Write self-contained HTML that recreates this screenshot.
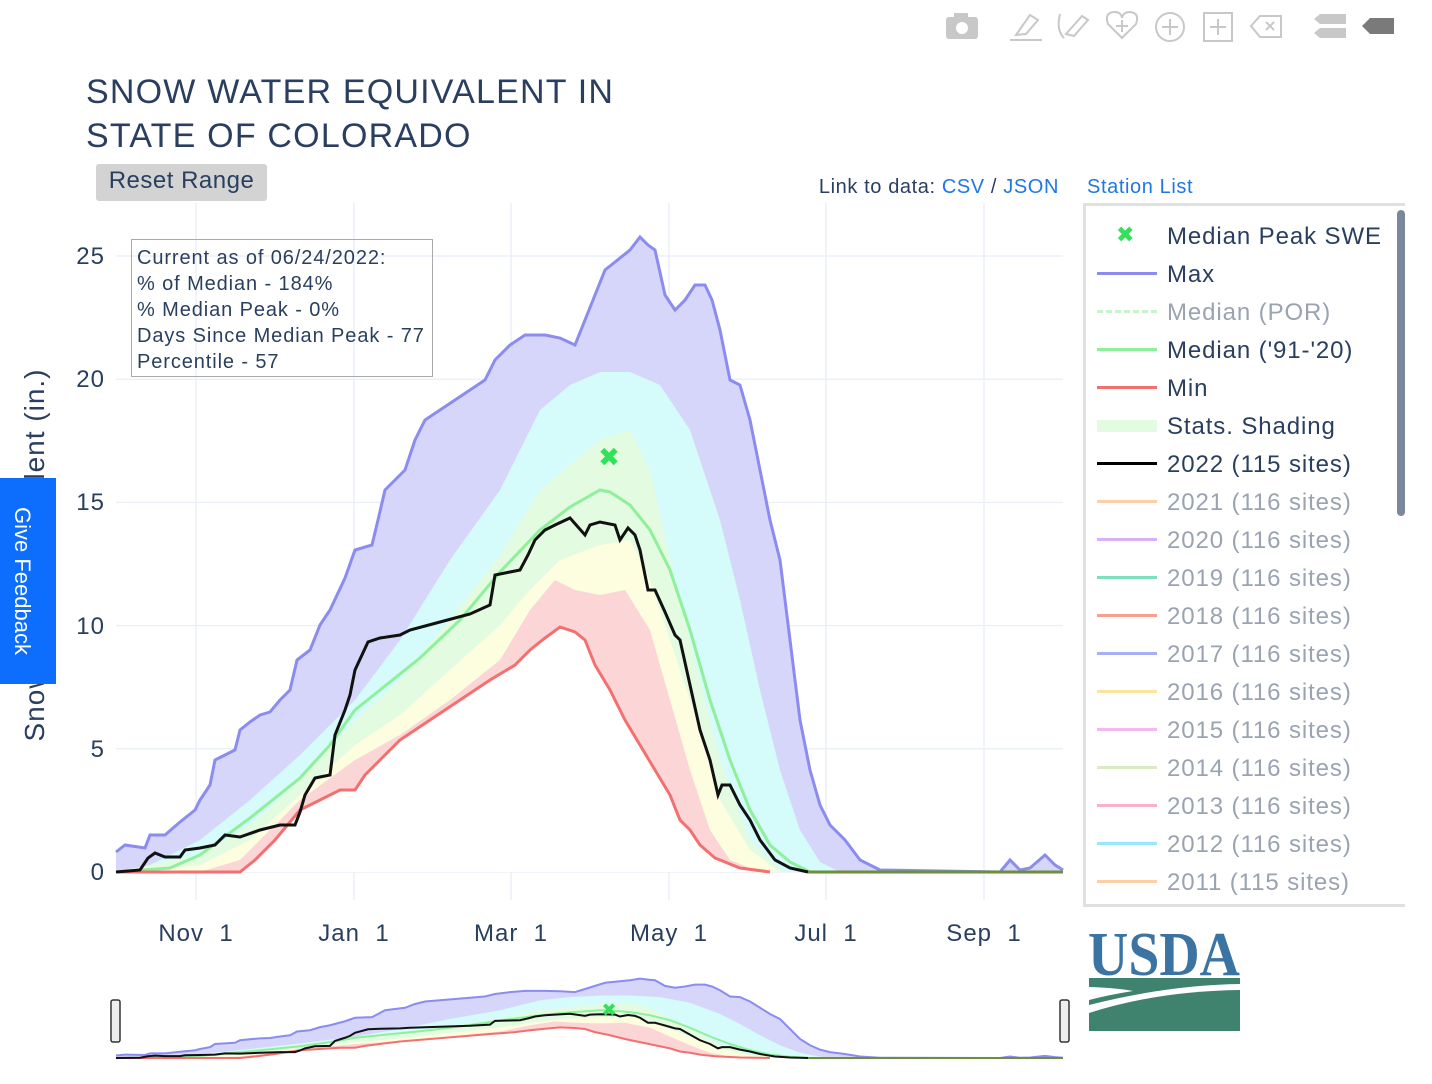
<!DOCTYPE html>
<html><head><meta charset="utf-8"><style>
body{margin:0;width:1432px;height:1084px;background:#fff;position:relative;overflow:hidden;font-family:"Liberation Sans","DejaVu Sans",sans-serif;color:#2a3f5f}
.t{position:absolute;white-space:nowrap}
</style></head><body>
<svg width="1432" height="1084" style="position:absolute;left:0;top:0" id="s">
<g fill="#c8c8c8" stroke="#c8c8c8">
<rect x="946" y="17" width="32" height="22" rx="3" stroke="none"/><rect x="954" y="13" width="14" height="6" stroke="none"/><circle cx="962" cy="28" r="6" fill="#fff" stroke="none"/>
<g fill="none" stroke-width="2"><line x1="1010" y1="40" x2="1042" y2="40"/><path d="M1016 35 L1030 15 L1038 20 L1026 34 Z"/>
<path d="M1060 14 Q1056 30 1064 38 M1066 34 L1082 16 L1088 20 L1074 36 Z"/>
<path d="M1122 38 L1108 24 Q1104 12 1115 12 Q1121 12 1122 18 Q1123 12 1130 12 Q1140 13 1136 24 Z"/><path d="M1122 20 v12 M1116 26 h12"/>
<circle cx="1170" cy="27" r="14"/><path d="M1170 19 v16 M1162 27 h16"/>
<rect x="1204" y="13" width="28" height="28"/><path d="M1218 19 v16 M1210 27 h16"/>
<path d="M1251 26 L1260 16 H1281 V37 H1260 Z"/><path d="M1266 22 l8 8 M1274 22 l-8 8"/></g>
<path d="M1320 14 H1346 V24 H1320 L1314 19 Z M1320 28 H1346 V38 H1320 L1314 33 Z" stroke="none"/>
<path d="M1370 18 H1394 V34 H1370 L1362 26 Z" fill="#7a7a7a" stroke="none"/>
</g>
<g stroke="#ebf0f8" stroke-width="1.5" id="grid"></g>
<g id="main"></g>
<g id="mini"></g>
</svg>
<div class="t" style="left:86px;top:70px;font-size:34px;line-height:44px;letter-spacing:1.2px">SNOW WATER EQUIVALENT IN<br>STATE OF COLORADO</div>
<div class="t" style="left:96px;top:164px;width:171px;height:37px;background:#d3d3d3;border-radius:3px;font-size:24px;text-align:center;line-height:34px;letter-spacing:0.5px">Reset Range</div>
<div class="t" style="right:373px;top:176px;font-size:20px;letter-spacing:0.6px">Link to data: <span style="color:#1f77e4">CSV</span> / <span style="color:#1f77e4">JSON</span></div>
<div class="t" style="left:1087px;top:176px;font-size:20px;color:#1f77e4;letter-spacing:0.6px">Station List</div>
<div class="t" style="left:131px;top:239px;width:302px;height:138px;border:1.5px solid #aaa;font-size:20px;line-height:26px;padding:5px 0 0 5px;box-sizing:border-box;letter-spacing:0.9px">Current as of 06/24/2022:<br>% of Median - 184%<br>% Median Peak - 0%<br>Days Since Median Peak - 77<br>Percentile - 57</div>
<div class="t" style="left:35px;top:555px;font-size:28px;letter-spacing:1px;transform:translate(-50%,-50%) rotate(-90deg)">Snow Water Equivalent (in.)</div>
<div class="t" style="left:0;top:478px;width:56px;height:206px;background:#0d6efd"><div class="t" style="left:22px;top:103px;color:#fff;font-size:22px;transform:translate(-50%,-50%) rotate(90deg)">Give Feedback</div></div>
<div id="yt"></div>
<div id="xt"></div>
<div class="t" style="left:1083px;top:203px;width:322px;height:704px;border:3px solid #e0e0e0;border-right:none;box-sizing:border-box"></div>
<div class="t" style="left:1397px;top:210px;width:8px;height:306px;background:#7d879c;border-radius:4px"></div>
<div id="lg"></div>
<svg width="152" height="110" style="position:absolute;left:1088px;top:925px">
<text x="0" y="50" font-family="Liberation Serif,serif" font-weight="bold" font-size="62" fill="#3b73a3" textLength="152" lengthAdjust="spacingAndGlyphs">USDA</text>
<path d="M1 53 H152 V59 Q80 60 1 80 Z" fill="#3f826d"/><path d="M1 62 Q30 63 45 66 Q20 70 1 75 Z" fill="#fff"/>
<path d="M1 88 Q70 66 152 65 V106 H1 Z" fill="#3f826d"/>
</svg>
<script>
var NS="http://www.w3.org/2000/svg";
function el(p,t,a){var e=document.createElementNS(NS,t);for(var k in a)e.setAttribute(k,a[k]);p.appendChild(e);return e}
var g=document.getElementById('grid');
[196,354,511,669,826,984].forEach(function(x){el(g,'line',{x1:x,x2:x,y1:203,y2:900})});
[0,5,10,15,20,25].forEach(function(v){var y=872-v*24.64;el(g,'line',{x1:116,x2:1063,y1:y,y2:y});
var d=document.createElement('div');d.className='t';d.style.cssText='right:1327px;top:'+(y-13)+'px;font-size:24px;letter-spacing:1px';d.textContent=v;document.getElementById('yt').appendChild(d)});
[["Nov  1",196],["Jan  1",354],["Mar  1",511],["May  1",669],["Jul  1",826],["Sep  1",984]].forEach(function(a){var d=document.createElement('div');d.className='t';d.style.cssText='left:'+a[1]+'px;top:920px;font-size:24px;letter-spacing:1px;transform:translateX(-50%);white-space:pre';d.textContent=a[0];document.getElementById('xt').appendChild(d)});
var mx=[[116,852],[125,845],[145,848],[150,835],[165,835],[180,822],[195,810],[200,800],[210,785],[215,760],[225,755],[235,750],[240,730],[250,722],[260,715],[270,712],[280,700],[290,690],[297,660],[310,650],[320,625],[330,610],[345,578],[355,550],[372,545],[378,520],[385,490],[395,480],[405,470],[415,440],[425,420],[440,410],[455,400],[470,390],[485,380],[495,360],[510,345],[525,335],[545,335],[560,338],[575,345],[585,320],[595,295],[605,270],[615,262],[630,250],[640,237],[648,245],[655,250],[665,295],[675,310],[685,300],[695,285],[705,285],[712,300],[720,330],[730,380],[740,385],[750,420],[760,470],[770,520],[780,560],[790,640],[800,720],[810,770],[820,805],[830,825],[845,840],[860,860],[880,870],[1000,872],[1010,860],[1020,870],[1030,868],[1045,855],[1055,865],[1063,870]];
var cy=[[116,872],[150,865],[200,840],[250,800],[300,755],[355,700],[400,640],[450,560],[500,490],[540,410],[570,385],[600,372],[630,372],[660,385],[690,430],[720,520],[740,600],[760,690],[780,770],[800,830],[820,862],[840,872]];
var gr=[[116,872],[200,855],[250,825],[300,780],[355,720],[400,680],[450,620],[500,555],[540,490],[570,465],[600,440],[630,430],[650,470],[670,560],[700,680],[720,760],[750,840],[780,870],[800,872]];
var md=[[116,872],[170,868],[200,855],[250,818],[300,778],[330,745],[355,710],[380,690],[420,658],[460,620],[500,572],[540,530],[570,507],[600,490],[610,492],[630,505],[650,530],[670,570],[690,630],[710,700],[730,760],[750,810],[770,845],[790,862],[810,872]];
var yl=[[116,872],[200,865],[250,840],[300,795],[355,745],[400,715],[450,670],[500,625],[530,590],[560,560],[600,545],[630,540],[650,580],[670,640],[700,730],[720,800],[750,850],[780,872]];
var rd=[[116,872],[200,872],[240,860],[300,800],[355,760],[400,735],[450,700],[500,660],[530,610],[555,580],[575,590],[600,595],[625,590],[650,630],[670,700],[690,770],[710,830],[730,860],[760,872]];
var mn=[[116,872],[240,872],[255,860],[275,840],[300,810],[340,790],[355,790],[365,775],[380,760],[400,740],[430,720],[460,700],[490,680],[515,665],[530,650],[545,638],[560,627],[575,632],[585,640],[595,665],[610,690],[625,720],[640,745],[655,770],[670,795],[680,820],[690,830],[700,845],[715,858],[740,868],[770,872]];
var bk=[[116,872],[140,870],[148,858],[155,853],[165,857],[180,857],[185,850],[200,848],[215,845],[225,835],[240,837],[260,830],[280,825],[295,825],[300,812],[305,795],[315,778],[330,775],[335,735],[345,710],[350,695],[355,670],[368,642],[380,638],[400,635],[410,630],[440,622],[470,614],[490,605],[495,575],[510,572],[520,570],[528,555],[535,540],[545,530],[555,525],[570,518],[585,535],[590,525],[600,522],[615,525],[620,540],[628,528],[635,535],[640,550],[648,590],[655,590],[665,612],[675,635],[680,640],[690,685],[700,730],[710,760],[718,795],[722,785],[730,785],[740,805],[750,820],[760,840],[775,860],[790,868],[808,872]];
function pts(a){return a.map(function(p){return p[0]+','+p[1]}).join(' ')}
function area(a){return pts(a)+' '+a[a.length-1][0]+',872 116,872'}
function draw(G,sw){
el(G,'polygon',{points:area(mx),fill:'#d6d6fa'});
el(G,'polygon',{points:area(cy),fill:'#d5fbfa'});
el(G,'polygon',{points:area(gr),fill:'#e3fbe0'});
el(G,'polygon',{points:area(yl),fill:'#fdfde0'});
el(G,'polygon',{points:area(rd),fill:'#fcd6d6'});
el(G,'polygon',{points:area(mn),fill:'#ffffff'});
el(G,'polyline',{points:pts(mx),fill:'none',stroke:'#8b8bf0','stroke-width':sw,'vector-effect':'non-scaling-stroke'});
el(G,'polyline',{points:pts(md),fill:'none',stroke:'#8ef09a','stroke-width':sw,'vector-effect':'non-scaling-stroke'});
el(G,'polyline',{points:pts(mn),fill:'none',stroke:'#f27070','stroke-width':sw,'vector-effect':'non-scaling-stroke'});
el(G,'polyline',{points:pts(bk),fill:'none',stroke:'#111','stroke-width':sw,'vector-effect':'non-scaling-stroke'});
el(G,'line',{x1:808,x2:1063,y1:872,y2:872,stroke:'#6b8f3a','stroke-width':sw,'vector-effect':'non-scaling-stroke'});
}
var M=document.getElementById('main');draw(M,3);
var t=el(M,'text',{x:609,y:466,'font-size':26,'font-weight':'bold',fill:'#33e05a','text-anchor':'middle'});t.textContent='✖';
var m=document.getElementById('mini');var mg=el(m,'g',{transform:'translate(0,'+(1058-872*0.125)+') scale(1,0.125)'});draw(mg,2);
var t2=el(m,'text',{x:609,y:1016,'font-size':18,'font-weight':'bold',fill:'#33e05a','text-anchor':'middle'});t2.textContent='✖';
el(m,'rect',{x:111,y:1000,width:9,height:42,rx:2,fill:'#eee',stroke:'#333','stroke-width':1.5});
el(m,'rect',{x:1060,y:1000,width:9,height:42,rx:2,fill:'#eee',stroke:'#333','stroke-width':1.5});
var L=[["✖","#33e05a","Median Peak SWE","#2a3f5f"],["#8b8bf0","","Max","#2a3f5f"],["#c8f5c8","d","Median (POR)","#9aa3b2"],["#8ef09a","","Median ('91-'20)","#2a3f5f"],["#f27070","","Min","#2a3f5f"],["#e3fbe0","b","Stats. Shading","#2a3f5f"],["#000","","2022 (115 sites)","#2a3f5f"],["#fccfa4","","2021 (116 sites)","#9aa3b2"],["#d9b0f5","","2020 (116 sites)","#9aa3b2"],["#7fe0c0","","2019 (116 sites)","#9aa3b2"],["#f8a090","","2018 (116 sites)","#9aa3b2"],["#a8b0f5","","2017 (116 sites)","#9aa3b2"],["#fbe3a0","","2016 (116 sites)","#9aa3b2"],["#f5b8f0","","2015 (116 sites)","#9aa3b2"],["#d8ecc0","","2014 (116 sites)","#9aa3b2"],["#f8b0cc","","2013 (116 sites)","#9aa3b2"],["#98e8f8","","2012 (116 sites)","#9aa3b2"],["#fccfa4","","2011 (115 sites)","#9aa3b2"]];
var lg=document.getElementById('lg');
L.forEach(function(r,i){var y=236+i*38;var h='';
if(i==0)h='<div class="t" style="left:1116px;top:'+(y-14)+'px;font-size:22px;font-weight:bold;color:#33e05a">✖</div>';
else if(r[1]=='b')h='<div class="t" style="left:1097px;top:'+(y-6)+'px;width:60px;height:12px;background:'+r[0]+'"></div>';
else if(r[1]=='d')h='<div class="t" style="left:1097px;top:'+(y-2)+'px;width:60px;height:0;border-top:3px dashed '+r[0]+'"></div>';
else h='<div class="t" style="left:1097px;top:'+(y-2)+'px;width:60px;height:3px;background:'+r[0]+'"></div>';
h+='<div class="t" style="left:1167px;top:'+(y-13)+'px;font-size:24px;letter-spacing:0.9px;color:'+r[3]+'">'+r[2]+'</div>';
lg.insertAdjacentHTML('beforeend',h)});
</script>
</body></html>
